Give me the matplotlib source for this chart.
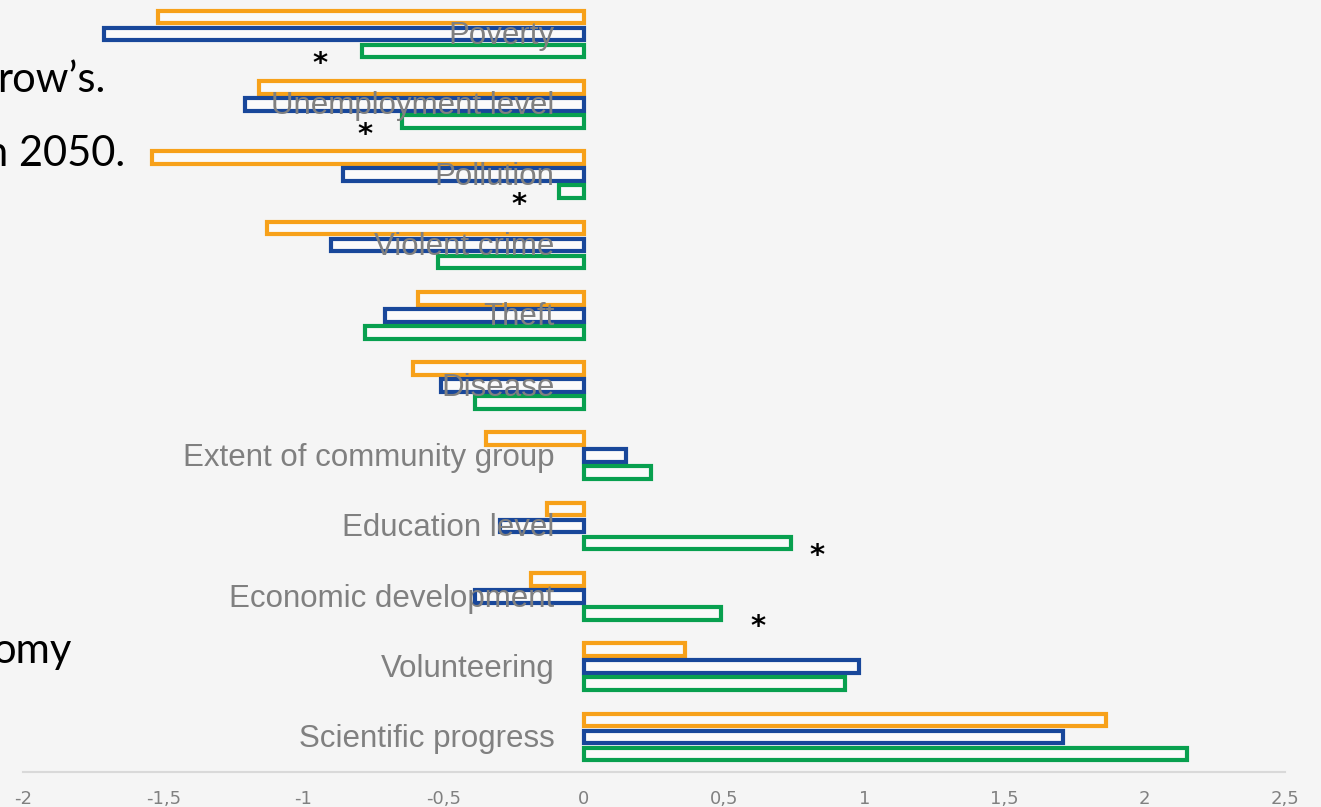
import matplotlib.pyplot as plt
import numpy as np

# categories from top to bottom
categories = ["Poverty", "Unemployment level", "Pollution", "Violent crime", "Theft",
              "Disease", "Extent of community group", "Education level",
              "Economic development", "Volunteering", "Scientific progress"]
orange_vals = [-1.52, -1.16, -1.54, -1.13, -0.59, -0.61, -0.35, -0.13, -0.19, 0.36, 1.86]
blue_vals = [-1.71, -1.21, -0.86, -0.90, -0.71, -0.51, 0.15, -0.30, -0.39, 0.98, 1.71]
green_vals = [-0.79, -0.65, -0.09, -0.52, -0.78, -0.39, 0.24, 0.74, 0.49, 0.93, 2.15]
# asterisks (category index, x position)
star_idx = [0, 1, 2, 7, 8]
star_x = [-0.94, -0.78, -0.23, 0.83, 0.62]
tick_vals = [-2, -1.5, -1, -0.5, 0, 0.5, 1, 1.5, 2, 2.5]

BG = "#f5f5f5"
ORANGE = "#F7A11A"
BLUE = "#18479A"
GREEN = "#08A04F"
GRAY = "#808080"

fig = plt.figure(figsize=(13.21, 8.07), dpi=100, facecolor=BG)
ax = fig.add_axes([23 / 1321, 1 - 772 / 807, (1285 - 23) / 1321, 772 / 807])
ax.set_facecolor(BG)

y = np.arange(len(categories))
off = 0.242
h = 0.18
lw = 3
ax.barh(y - off, orange_vals, height=h, facecolor="#fafafa", edgecolor=ORANGE, linewidth=lw)
ax.barh(y, blue_vals, height=h, facecolor="#fafafa", edgecolor=BLUE, linewidth=lw)
ax.barh(y + off, green_vals, height=h, facecolor="#fafafa", edgecolor=GREEN, linewidth=lw)

for i, c in enumerate(categories):
    ax.text(-0.105, i + 0.03, c, ha="right", va="center", color=GRAY, fontsize=22.5,
            family="Liberation Sans", zorder=5)

for i, sx in zip(star_idx, star_x):
    ax.text(sx, i + off + 0.19, "*", ha="center", va="center", fontsize=21,
            color="black", family="DejaVu Sans", weight="bold", zorder=5)

ax.set_xlim(-2, 2.5)
ax.set_ylim(10.498, -0.484)
ax.set_xticks(tick_vals)
ax.set_xticklabels([("%g" % t).replace(".", ",") for t in tick_vals],
                   color=GRAY, fontsize=13, family="Liberation Sans Narrow")
ax.tick_params(axis="x", length=0, pad=13)
ax.set_yticks([])
for s in ["top", "right", "left"]:
    ax.spines[s].set_visible(False)
ax.spines["bottom"].set_color("#d9d9d9")
ax.spines["bottom"].set_linewidth(1.5)

# leftover slide text behind the chart
fig.text(105 / 1321, 1 - 92 / 807, "row\u2019s.", fontsize=30, family="Lato",
         ha="right", va="baseline", color="black")
fig.text(125 / 1321, 1 - 166 / 807, "n 2050.", fontsize=30, family="Lato",
         ha="right", va="baseline", color="black")
fig.text(72 / 1321, 1 - 663 / 807, "omy", fontsize=30, family="Lato",
         ha="right", va="baseline", color="black")

fig.savefig("out.png", dpi=100, facecolor=BG)
